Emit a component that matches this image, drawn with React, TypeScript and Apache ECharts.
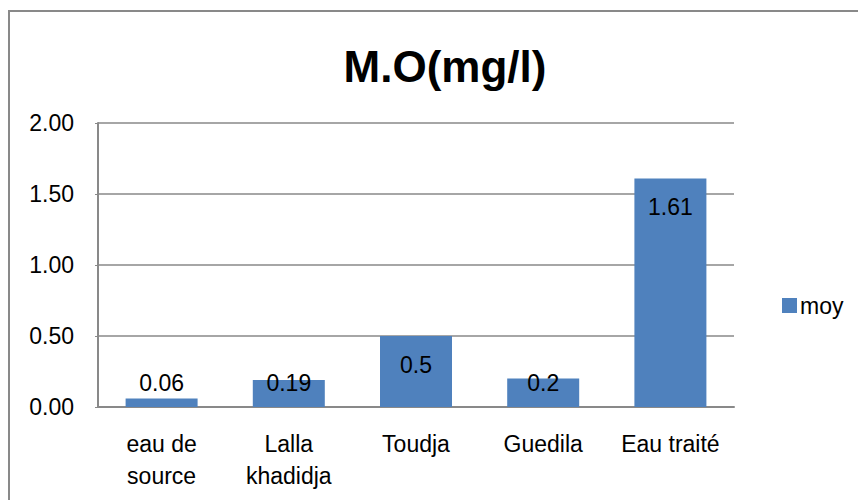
import React, { useEffect, useRef } from "react";
import * as echarts from "echarts";

const categories: string[] = ["eau de\nsource", "Lalla\nkhadidja", "Toudja", "Guedila", "Eau traité"];
const moyValues: number[] = [0.06, 0.19, 0.5, 0.2, 1.61];
const yTicks: number[] = [0, 0.5, 1, 1.5, 2];

const TEXT_FONT = "'Liberation Sans', Arial, sans-serif";
const BAR_COLOR = "#4F81BD";
const LINE_COLOR = "#898989";

export default function App() {
  const ref = useRef<HTMLDivElement>(null);

  useEffect(() => {
    if (!ref.current) return;
    const chart = echarts.init(ref.current, undefined, { renderer: "svg" });

    const barData = moyValues.map((v) => {
      // tall bars carry their label near the top, short ones just above the axis
      const tall = v >= 0.3;
      return {
        value: v,
        label: tall
          ? { position: "insideTop", distance: 17 }
          : { position: "insideBottom", distance: 13 },
      };
    });

    chart.setOption({
      animation: false,
      backgroundColor: "#ffffff",
      title: {
        text: "M.O(mg/l)",
        left: 440,
        textAlign: "center",
        top: 39,
        textStyle: {
          fontFamily: TEXT_FONT,
          fontWeight: "bold",
          fontSize: 44,
          color: "#000000",
        },
      },
      legend: {
        data: ["moy"],
        left: 777,
        top: 289,
        icon: "rect",
        itemWidth: 15,
        itemHeight: 15,
        itemGap: 10,
        textStyle: { fontFamily: TEXT_FONT, fontSize: 23, color: "#000000", padding: [0, 0, 0, -2] },
      },
      graphic: [
        {
          type: "rect",
          shape: { x: 9, y: 11, width: 900, height: 600 },
          style: { fill: "none", stroke: LINE_COLOR, lineWidth: 2 },
          silent: true,
        },
      ],
      grid: { left: 98, right: 124, top: 123, bottom: 93, containLabel: false },
      xAxis: {
        type: "category",
        data: categories,
        axisLine: { show: true, lineStyle: { color: LINE_COLOR, width: 2 } },
        axisTick: { show: false },
        axisLabel: {
          fontFamily: TEXT_FONT,
          fontSize: 23,
          lineHeight: 32,
          color: "#000000",
          margin: 21,
          interval: 0,
        },
      },
      yAxis: {
        type: "value",
        min: yTicks[0],
        max: yTicks[yTicks.length - 1],
        interval: 0.5,
        axisLine: { show: true, lineStyle: { color: LINE_COLOR, width: 2 } },
        axisTick: { show: true, length: 3, lineStyle: { color: LINE_COLOR } },
        splitLine: { show: true, lineStyle: { color: LINE_COLOR, width: 1.5 } },
        axisLabel: {
          fontFamily: TEXT_FONT,
          fontSize: 23,
          color: "#000000",
          margin: 24,
          formatter: (v: number) => v.toFixed(2),
        },
      },
      series: [
        {
          name: "moy",
          type: "bar",
          data: barData,
          barWidth: 72,
          itemStyle: { color: BAR_COLOR },
          label: {
            show: true,
            fontFamily: TEXT_FONT,
            fontSize: 23,
            color: "#000000",
            formatter: (p: any) => String(p.value),
          },
        },
      ],
    });

    return () => chart.dispose();
  }, []);

  return (
    <div
      ref={ref}
      style={{ position: "fixed", left: 0, top: 0, width: 858, height: 500 }}
    />
  );
}
